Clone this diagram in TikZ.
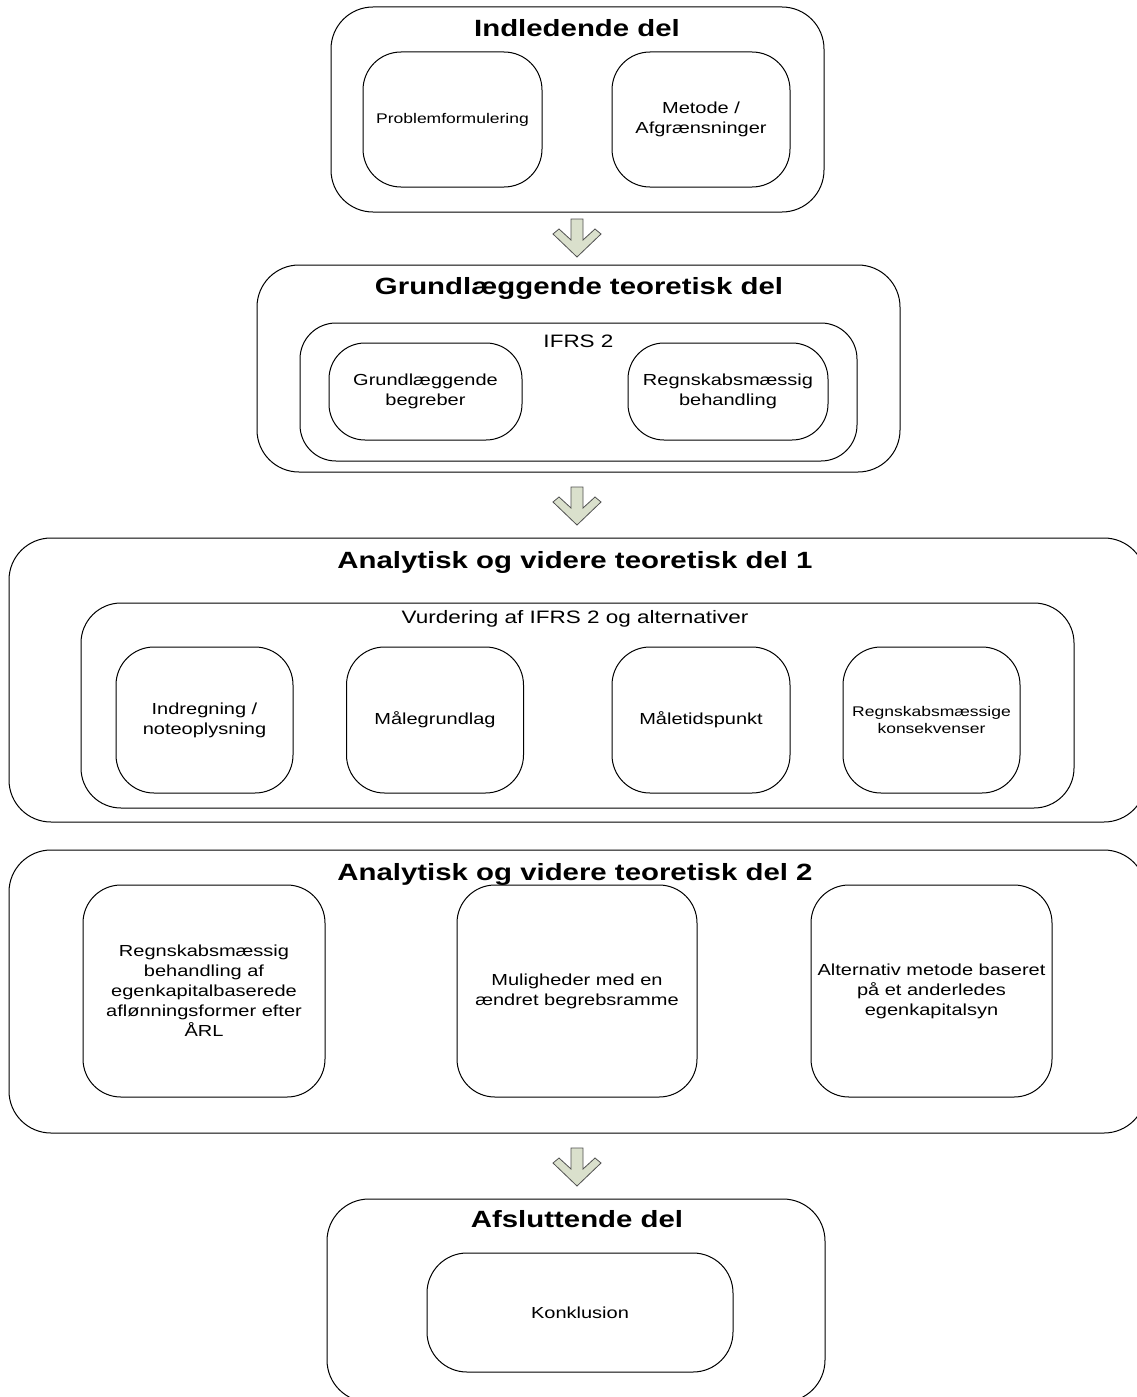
\documentclass[tikz,border=0pt]{standalone}
\usepackage{fontspec}
\setmainfont{Liberation Sans}[FakeStretch=1.25]
\definecolor{arrowfill}{RGB}{218,224,204}
\definecolor{arrowline}{RGB}{80,80,80}
\tikzset{
  frame/.style={draw=black, line width=1pt, rounded corners=42pt, inner sep=0pt},
  inbox/.style={draw=black, line width=1pt, rounded corners=38pt, inner sep=0pt, align=center,
                font=\fontsize{16}{20}\selectfont},
  titletext/.style={font=\bfseries\fontsize{23.5}{28}\selectfont, anchor=base, inner sep=0pt},
  subtitletext/.style={font=\fontsize{18}{22}\selectfont, anchor=base, inner sep=0pt},
  blockarrow/.style={draw=arrowline, fill=arrowfill, line width=0.8pt, line join=miter},
  pics/downarrow/.style={code={
    \draw[blockarrow] (-6,0) -- (-6,21) -- (-18,10) -- (-24,15) -- (0,38) -- (24,15)
      -- (18,10) -- (6,21) -- (6,0) -- cycle;}}
}
\begin{document}
\begin{tikzpicture}[x=1pt,y=-1pt]
\useasboundingbox (0,0) rectangle (1137,1397);
\fill[white] (0,0) rectangle (1137,1397);
\clip (0,0) rectangle (1137,1397);

% Indledende del
\node[frame, minimum width=493pt, minimum height=205pt] (b1) at (577.5,109.5) {};
\node[titletext] (t1) at (577,36.5) {Indledende del};
\node[inbox, font=\fontsize{14}{17}\selectfont, minimum width=179pt, minimum height=135pt] (p1) at (452.5,119.5) {Problemformulering};
\node[inbox, minimum width=178pt, minimum height=135pt] (p2) at (701,119.5) {Metode /\\Afgrænsninger};

\pic at (577,219) {downarrow};

% Grundlaeggende teoretisk del
\node[frame, minimum width=643pt, minimum height=207pt] (b2) at (578.5,368.5) {};
\node[titletext] (t2) at (579,294) {Grundlæggende teoretisk del};
\node[frame, rounded corners=36pt, minimum width=557pt, minimum height=138pt] (ifrs) at (578.5,392) {};
\node[subtitletext] (ifrst) at (578.5,347) {IFRS 2};
\node[inbox, rounded corners=36pt, minimum width=193pt, minimum height=97pt] (g1) at (425.5,391.5) {Grundlæggende\\begreber};
\node[inbox, rounded corners=36pt, minimum width=200pt, minimum height=97pt] (g2) at (728,391.5) {Regnskabsmæssig\\behandling};

\pic at (577,487) {downarrow};

% Analytisk del 1
\node[frame, minimum width=1137pt, minimum height=284pt] (b3) at (577.5,680) {};
\node[titletext] (t3) at (575,568) {Analytisk og videre teoretisk del 1};
\node[frame, rounded corners=40pt, minimum width=993pt, minimum height=205pt] (vur) at (577.5,705.5) {};
\node[subtitletext] (vurt) at (575,623) {Vurdering af IFRS 2 og alternativer};
\node[inbox, minimum width=177pt, minimum height=146pt] (v1) at (204.5,720) {Indregning /\\noteoplysning};
\node[inbox, minimum width=177pt, minimum height=146pt] (v2) at (435,720) {Målegrundlag};
\node[inbox, minimum width=178pt, minimum height=146pt] (v3) at (701,720) {Måletidspunkt};
\node[inbox, font=\fontsize{14}{17}\selectfont, minimum width=177pt, minimum height=146pt] (v4) at (931.5,720) {Regnskabsmæssige\\konsekvenser};

% Analytisk del 2
\node[frame, minimum width=1137pt, minimum height=283pt] (b4) at (577.5,991.5) {};
\node[titletext] (t4) at (575,880) {Analytisk og videre teoretisk del 2};
\node[inbox, minimum width=242pt, minimum height=212pt] (w1) at (204,991) {Regnskabsmæssig\\behandling af\\egenkapitalbaserede\\aflønningsformer efter\\ÅRL};
\node[inbox, minimum width=240pt, minimum height=212pt] (w2) at (577,991) {Muligheder med en\\ændret begrebsramme};
\node[inbox, minimum width=241pt, minimum height=212pt] (w3) at (931.5,991) {Alternativ metode baseret\\på et anderledes\\egenkapitalsyn};

\pic at (577,1148) {downarrow};

% Afsluttende del
\node[frame, minimum width=498pt, minimum height=203pt] (b5) at (576,1300.5) {};
\node[titletext] (t5) at (577,1227) {Afsluttende del};
\node[inbox, rounded corners=40pt, minimum width=306pt, minimum height=119pt] (k) at (580,1312.5) {Konklusion};
\end{tikzpicture}
\end{document}
